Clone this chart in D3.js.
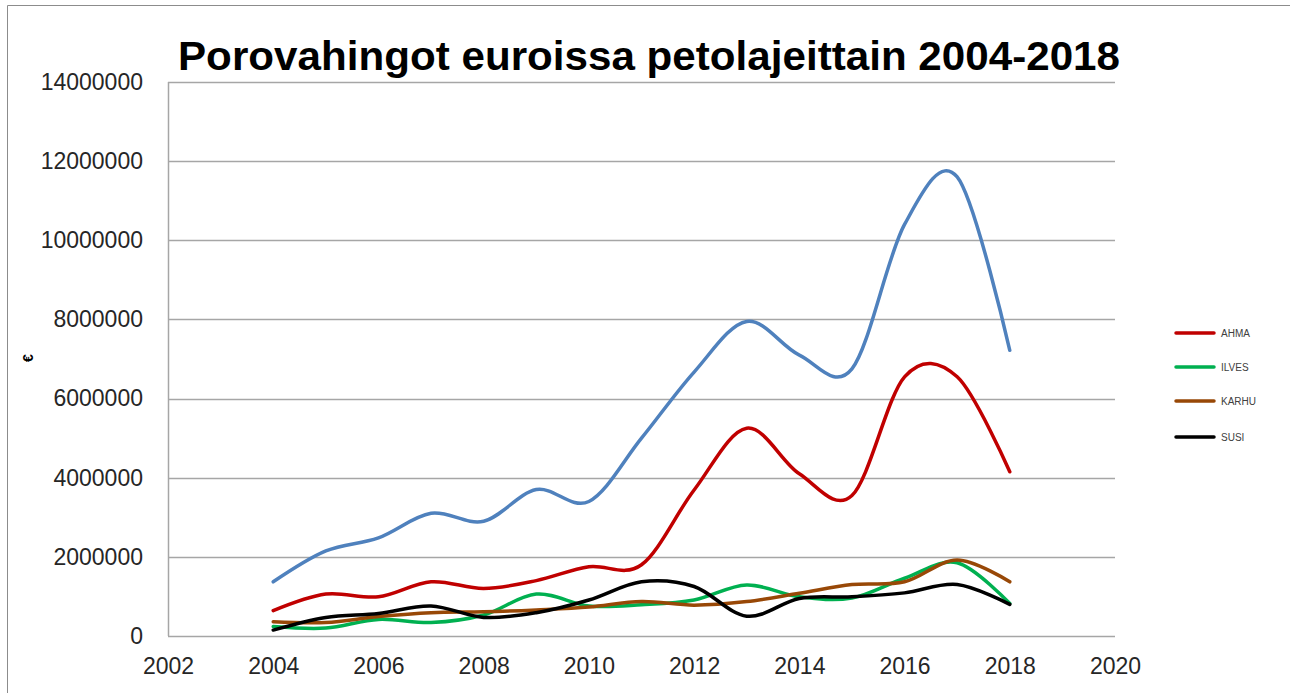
<!DOCTYPE html>
<html>
<head>
<meta charset="utf-8">
<script src="https://cdn.jsdelivr.net/npm/d3@7"></script>
<style>
  body { margin: 0; background: #fff; }
  svg { display: block; }
</style>
</head>
<body>
<svg id="SVG_CONTAINER" width="1290" height="693"></svg>
<script>
let years = [2004, 2005, 2006, 2007, 2008, 2009, 2010, 2011, 2012, 2013, 2014, 2015, 2016, 2017, 2018];

// total of all predators (no legend entry in the original)
let total = [1370000, 2150000, 2480000, 3100000, 2900000, 3700000, 3400000, 5000000, 6670000, 7950000, 7100000, 6750000, 10400000, 11600000, 7220000];
let ahma  = [640000, 1060000, 990000, 1370000, 1200000, 1400000, 1750000, 1800000, 3690000, 5250000, 4100000, 3550000, 6550000, 6550000, 4150000];
let ilves = [240000, 200000, 420000, 340000, 530000, 1060000, 760000, 790000, 910000, 1290000, 990000, 960000, 1460000, 1850000, 820000];
let karhu = [360000, 340000, 490000, 590000, 610000, 660000, 730000, 870000, 780000, 870000, 1080000, 1300000, 1370000, 1920000, 1370000];
let susi  = [150000, 470000, 570000, 760000, 470000, 590000, 910000, 1370000, 1250000, 500000, 950000, 990000, 1090000, 1300000, 800000];

let xTicks = [2002, 2004, 2006, 2008, 2010, 2012, 2014, 2016, 2018, 2020];
let yTicks = [0, 2000000, 4000000, 6000000, 8000000, 10000000, 12000000, 14000000];

let legendNames = ["AHMA", "ILVES", "KARHU", "SUSI"];

const PLOT = { LEFT: 168, RIGHT: 1115, TOP: 82, BOTTOM: 636 };

let svg = d3.select("#SVG_CONTAINER");

// chart area border (only left and top edges visible in the screenshot)
svg.append("path")
  .attr("d", "M7.5,693 L7.5,5.5 L1290,5.5")
  .attr("fill", "none")
  .attr("stroke", "#8c8c8c")
  .attr("stroke-width", 1);

let xScale = d3.scaleLinear()
  .domain([2002, 2020])
  .range([PLOT.LEFT, PLOT.RIGHT]);

let yScale = d3.scaleLinear()
  .domain([0, 14000000])
  .range([PLOT.BOTTOM, PLOT.TOP]);

// gridlines
svg.append("g")
  .selectAll("line")
  .data(yTicks)
  .enter()
  .append("line")
    .attr("x1", PLOT.LEFT)
    .attr("x2", PLOT.RIGHT)
    .attr("y1", d => Math.round(yScale(d)) + 0.5)
    .attr("y2", d => Math.round(yScale(d)) + 0.5)
    .attr("stroke", "#a6a6a6")
    .attr("stroke-width", 1.5);

// y axis line
svg.append("line")
  .attr("x1", PLOT.LEFT + 0.5).attr("x2", PLOT.LEFT + 0.5)
  .attr("y1", PLOT.TOP).attr("y2", PLOT.BOTTOM)
  .attr("stroke", "#a6a6a6")
  .attr("stroke-width", 1.5);

// y tick labels
let yAxis = d3.axisLeft(yScale)
  .tickValues(yTicks)
  .tickFormat(d => d)
  .tickSize(0)
  .tickPadding(25);

let yg = svg.append("g")
  .attr("transform", "translate(" + PLOT.LEFT + ",0)")
  .call(yAxis);
yg.select(".domain").remove();
yg.selectAll("text")
  .attr("font-family", "Liberation Sans, Arial, sans-serif")
  .attr("font-size", "23px")
  .attr("fill", "#262626");

// x tick labels
let xAxis = d3.axisBottom(xScale)
  .tickValues(xTicks)
  .tickFormat(d => d)
  .tickSize(0)
  .tickPadding(22);

let xg = svg.append("g")
  .attr("transform", "translate(0," + PLOT.BOTTOM + ")")
  .call(xAxis);
xg.select(".domain").remove();
xg.selectAll("text")
  .attr("font-family", "Liberation Sans, Arial, sans-serif")
  .attr("font-size", "23px")
  .attr("fill", "#262626");

// title
svg.append("text")
  .attr("x", 178)
  .attr("y", 70)
  .attr("textLength", 942)
  .attr("lengthAdjust", "spacingAndGlyphs")
  .attr("font-family", "Liberation Sans Narrow, Arial Narrow, sans-serif")
  .attr("font-weight", "bold")
  .attr("font-size", "40px")
  .attr("fill", "#000")
  .text("Porovahingot euroissa petolajeittain 2004-2018");

// y axis title
svg.append("text")
  .attr("transform", "translate(33,358) rotate(-90)")
  .attr("text-anchor", "middle")
  .attr("font-family", "Liberation Sans, Arial, sans-serif")
  .attr("font-weight", "bold")
  .attr("font-size", "14px")
  .attr("fill", "#000")
  .text("€");

let series = [
  { name: "AHMA", values: ahma, color: "#c00000" },
  { name: "ILVES", values: ilves, color: "#00b050" },
  { name: "KARHU", values: karhu, color: "#984807" },
  { name: "SUSI", values: susi, color: "#000000" },
  { name: "YHTEENSÄ", values: total, color: "#4f81bd" }
];

let line = d3.line()
  .x((d, i) => xScale(years[i]))
  .y(d => yScale(d))
  .curve(d3.curveCardinal.tension(0));

svg.append("g")
  .selectAll("path")
  .data(series)
  .enter()
  .append("path")
    .attr("d", d => line(d.values))
    .attr("fill", "none")
    .attr("stroke", d => d.color)
    .attr("stroke-width", 3.5)
    .attr("stroke-linejoin", "round")
    .attr("stroke-linecap", "round");

// Handmade legend
let legendY = [333, 367, 401, 437];
for (let i = 0; i < legendNames.length; i++) {
  let s = series.find(d => d.name == legendNames[i]);
  svg.append("line")
    .attr("x1", 1176).attr("x2", 1214)
    .attr("y1", legendY[i]).attr("y2", legendY[i])
    .attr("stroke", s.color)
    .attr("stroke-width", 3.5)
    .attr("stroke-linecap", "round");
  svg.append("text")
    .attr("x", 1221)
    .attr("y", legendY[i])
    .attr("dy", "0.35em")
    .attr("font-family", "Liberation Sans, Arial, sans-serif")
    .attr("font-size", "10px")
    .attr("fill", "#404040")
    .text(legendNames[i]);
}
</script>
</body>
</html>
